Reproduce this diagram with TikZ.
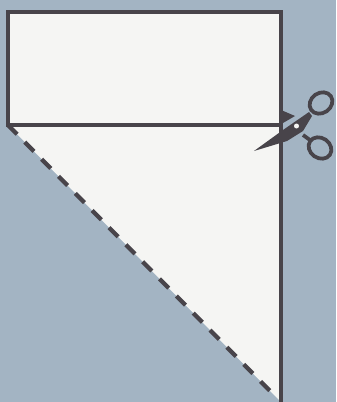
\documentclass[tikz,border=0pt]{standalone}
\definecolor{bgblue}{RGB}{163,180,195}
\definecolor{paper}{RGB}{245,245,243}
\definecolor{edgegray}{RGB}{72,68,74}
\tikzset{
    edgeline/.style={draw=edgegray, line width=0.07cm},
    cutline/.style={edgegray, line width=0.085cm, dash pattern=on 0.26cm off 0.22cm},
    ringline/.style={draw=edgegray, line width=0.075cm}
}
\begin{document}
\begin{tikzpicture}[x=0.02cm, y=-0.02cm]
    % 背景
    \fill[bgblue] (0, 0) rectangle (336, 402);
    \useasboundingbox (0, 0) rectangle (336, 402);

    % 纸
    \fill[paper] (8, 12) rectangle (281, 125);
    \fill[paper] (8, 125) -- (281, 125) -- (281, 402) -- cycle;
    \draw[edgeline] (8, 12) rectangle (281, 125);
    \draw[edgeline] (281, 125) -- (281, 402);

    % 折线
    \draw[cutline] (8, 125) -- (277, 398);

    % 剪刀
    \fill[edgegray] (254, 151) -- (283, 130) -- (309, 112) -- (312, 116) -- (303, 131) -- (287, 141) -- cycle;
    \fill[edgegray] (281, 110) -- (295, 116) -- (283, 123) -- cycle;
    \draw[ringline] (303, 135) -- (310, 140);
    \draw[ringline, rotate around={35:(321, 103)}] (321, 103) ellipse (12 and 10);
    \draw[ringline, rotate around={-35:(320, 148)}] (320, 148) ellipse (12 and 10);
    \fill[paper] (296.5, 126) circle (2.5);
\end{tikzpicture}
\end{document}
